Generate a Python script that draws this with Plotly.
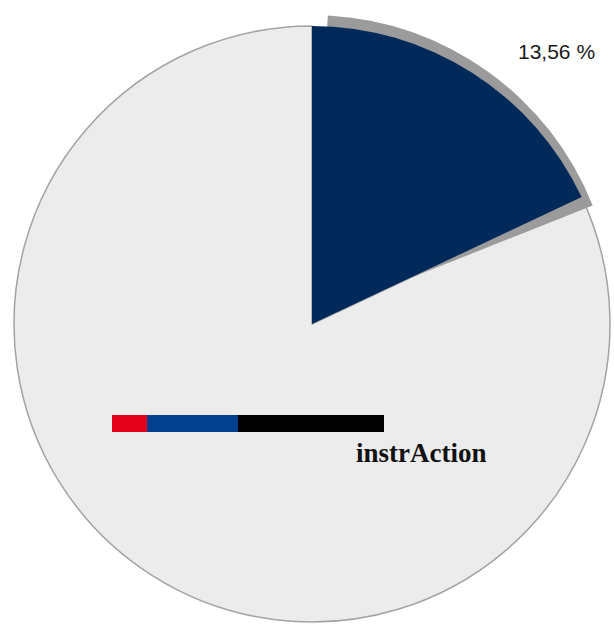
import plotly.graph_objects as go

# ---- data ----
slice_names = ["instrAction", "Other"]
slice_share = [18.0, 82.0]          # drawn angular share of the pie (%)
slice_label = ["13,56 %"]           # printed label of the highlighted slice
logo_segments = ["red", "blue", "black"]
logo_widths = [35, 91, 146]          # relative widths of the logo bar segments
logo_text = "instrAction"

# ---- styles ----
NAVY = "#012a5b"
LIGHT = "#ececec"
SHADOW = "#9b9b9b"
CLEAR = "rgba(0,0,0,0)"
W, H = 614, 628

def dom(cx, cy, r):
    return dict(x=[(cx - r) / W, (cx + r) / W], y=[1 - (cy + r) / H, 1 - (cy - r) / H])

main_dom = dom(312, 324, 298)
shadow_dom = dom(312, 317, 302)

fig = go.Figure()

# base pie: light slice with thin grey outline
fig.add_trace(go.Pie(
    labels=slice_names, values=slice_share, sort=False, direction="clockwise", rotation=0,
    marker=dict(colors=[CLEAR, LIGHT], line=dict(color=[CLEAR, "#a3a3a3"], width=[0, 1.5])),
    textinfo="none", hoverinfo="skip", showlegend=False, domain=main_dom))

# shadow behind the highlighted slice
shadow_vals = [slice_share[0] + 0.15, 100 - slice_share[0] - 0.15]
fig.add_trace(go.Pie(
    labels=slice_names, values=shadow_vals, sort=False, direction="clockwise", rotation=3,
    marker=dict(colors=[SHADOW, CLEAR], line=dict(width=0)),
    textinfo="none", hoverinfo="skip", showlegend=False, domain=shadow_dom))

# highlighted slice on top
fig.add_trace(go.Pie(
    labels=slice_names, values=slice_share, sort=False, direction="clockwise", rotation=0,
    marker=dict(colors=[NAVY, CLEAR], line=dict(width=0)),
    textinfo="none", hoverinfo="skip", showlegend=False, domain=main_dom))

# label
fig.add_annotation(x=556 / W, y=1 - 51 / H, xref="paper", yref="paper",
                   text=slice_label[0], showarrow=False, xanchor="center", yanchor="middle",
                   font=dict(family="Liberation Sans, Arial", size=21, color="#1a1a1a"))

# logo bar
colors = {"red": "#e2001a", "blue": "#00408f", "black": "#000000"}
x0 = 112
shapes = []
for name, w in zip(logo_segments, logo_widths):
    shapes.append(dict(type="rect", xref="paper", yref="paper",
                       x0=x0 / W, x1=(x0 + w) / W, y0=1 - 432 / H, y1=1 - 415 / H,
                       fillcolor=colors[name], line=dict(width=0), layer="above"))
    x0 += w
fig.update_layout(shapes=shapes)

fig.add_annotation(x=421 / W, y=1 - 453 / H, xref="paper", yref="paper",
                   text="<b>" + logo_text + "</b>", showarrow=False,
                   xanchor="center", yanchor="middle",
                   font=dict(family="Liberation Serif, Times New Roman", size=27, color="#111111"))

fig.update_layout(width=W, height=H, margin=dict(l=0, r=0, t=0, b=0),
                  paper_bgcolor="white", plot_bgcolor="white", showlegend=False)

fig.write_html("out.html", config={"displayModeBar": False})
